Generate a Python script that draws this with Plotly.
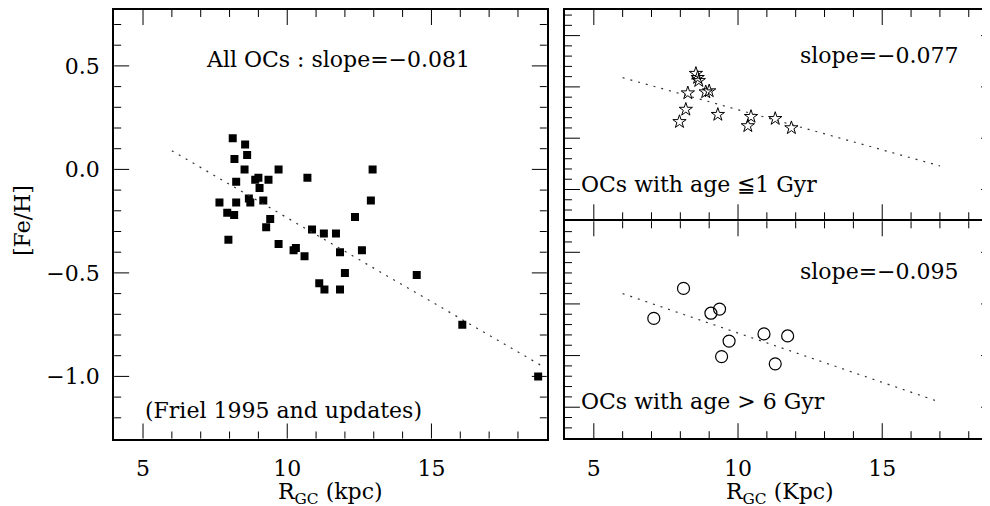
import numpy as np
import plotly.graph_objects as go

# ---------------- data ----------------
# Left panel: all open clusters (Friel 1995 and updates)
all_rgc = [8.11, 8.54, 8.61, 8.17, 8.52, 9.70, 12.96, 10.70, 8.23, 8.89, 9.00, 9.35,
           9.04, 8.67, 8.72, 9.17, 7.65, 8.23, 12.90, 7.92, 8.16, 12.35, 9.41, 9.27,
           10.86, 11.27, 11.69, 7.96, 9.70, 10.30, 10.22, 10.60, 11.83, 12.59, 12.00,
           11.11, 11.29, 11.83, 16.07, 18.70, 14.49]
all_feh = [0.15, 0.12, 0.07, 0.05, 0.00, 0.00, 0.00, -0.04, -0.06, -0.05, -0.04, -0.05,
           -0.09, -0.14, -0.16, -0.15, -0.16, -0.16, -0.15, -0.21, -0.22, -0.23, -0.24, -0.28,
           -0.29, -0.31, -0.31, -0.34, -0.36, -0.38, -0.39, -0.42, -0.40, -0.39, -0.50,
           -0.55, -0.58, -0.58, -0.75, -1.00, -0.51]
all_fit_x = [6.0, 18.9]
all_fit_y = [0.09, -0.955]

# Top right: OCs with age <= 1 Gyr
young_rgc = [8.54, 8.64, 8.60, 8.26, 8.88, 9.00, 8.19, 7.97, 9.30, 10.45, 10.34, 11.29, 11.85]
young_feh = [0.13, 0.06, 0.09, -0.06, -0.05, -0.04, -0.22, -0.34, -0.27, -0.29, -0.38, -0.31, -0.40]
young_fit_x = [6.0, 17.0]
young_fit_y = [0.09, -0.77]

# Bottom right: OCs with age > 6 Gyr
old_rgc = [7.08, 8.11, 9.06, 9.36, 9.69, 9.43, 10.90, 11.72, 11.29]
old_feh = [-0.14, 0.15, -0.09, -0.05, -0.36, -0.51, -0.29, -0.31, -0.58]
old_fit_x = [6.0, 17.0]
old_fit_y = [0.10, -0.95]

x_ticks = [5, 10, 15]
y_ticks = [0.5, 0.0, -0.5, -1.0]
x_minor_step = 1
y_minor_step = 0.1

# ---------------- figure ----------------
FONT = "DejaVu Serif"
W, H = 990, 506
OFF = 8  # page offset of the plot div (body margin)


def px_x(p):
    """page pixel x -> paper fraction"""
    return min(1.0, max(0.0, (p - OFF) / W))


def px_y(p):
    """page pixel y -> paper fraction"""
    return min(1.0, max(0.0, (H - (p - OFF)) / H))


left_dom = [px_x(114.4), px_x(547.9)]
right_dom = [px_x(566.1), 1.0]
yl_dom = [px_y(438.5), px_y(10)]
yt_dom = [px_y(219.3), px_y(10)]
yb_dom = [px_y(438.2), px_y(221.3)]

left_xrange = [4, 19]
right_xrange = [4, 4 + (W + OFF - 566.1) / 28.9]
left_yrange = [-1.3, (169.4 - 10) / 207]
top_yrange = [(86.9 - 219.3) / 102.6, (86.9 - 10) / 102.6]
bot_yrange = [-1.3, 0.8]

xd = x_ticks[1] - x_ticks[0]
yd = y_ticks[0] - y_ticks[1]

fig = go.Figure()

dot_line = dict(color="#333333", width=1.2, dash="2px,6px")

fig.add_trace(go.Scatter(x=all_rgc, y=all_feh, mode="markers",
                         marker=dict(symbol="square", size=8, color="black"),
                         xaxis="x", yaxis="y", showlegend=False))
fig.add_trace(go.Scatter(x=all_fit_x, y=all_fit_y, mode="lines", line=dot_line,
                         xaxis="x", yaxis="y", showlegend=False))

fig.add_trace(go.Scatter(x=young_rgc, y=young_feh, mode="markers",
                         marker=dict(symbol="star-open", size=10, color="black",
                                     line=dict(width=1, color="black")),
                         xaxis="x2", yaxis="y2", showlegend=False))
fig.add_trace(go.Scatter(x=young_fit_x, y=young_fit_y, mode="lines", line=dot_line,
                         xaxis="x2", yaxis="y2", showlegend=False))

fig.add_trace(go.Scatter(x=old_rgc, y=old_feh, mode="markers",
                         marker=dict(symbol="circle-open", size=12, color="black",
                                     line=dict(width=1.2, color="black")),
                         xaxis="x3", yaxis="y3", showlegend=False))
fig.add_trace(go.Scatter(x=old_fit_x, y=old_fit_y, mode="lines", line=dot_line,
                         xaxis="x3", yaxis="y3", showlegend=False))

# empty traces so that the label-only overlay axes are drawn
for xa, ya in [("x4", "y4"), ("x5", "y3")]:
    fig.add_trace(go.Scatter(x=[None], y=[None], xaxis=xa, yaxis=ya,
                             showlegend=False, hoverinfo="skip"))

tickfont = dict(family=FONT, size=22, color="black")

frame = dict(ticks="", showline=True, linecolor="black", linewidth=2, mirror=True,
             showgrid=False, zeroline=False, showticklabels=False)

label_axis = dict(tickmode="linear", tick0=0, ticks="outside", tickcolor="rgba(0,0,0,0)",
                  showline=False, showgrid=False, zeroline=False, tickfont=tickfont,
                  showticklabels=True)

fig.update_layout(
    width=W, height=H,
    margin=dict(l=0, r=0, t=0, b=0),
    paper_bgcolor="white", plot_bgcolor="white",
    font=dict(family=FONT, color="black"),
    xaxis=dict(frame, domain=left_dom, range=left_xrange, anchor="y"),
    yaxis=dict(frame, domain=yl_dom, range=left_yrange, anchor="x"),
    xaxis2=dict(frame, domain=right_dom, range=right_xrange, anchor="y2"),
    yaxis2=dict(frame, domain=yt_dom, range=top_yrange, anchor="x2"),
    xaxis3=dict(frame, domain=right_dom, range=right_xrange, anchor="y3"),
    yaxis3=dict(frame, domain=yb_dom, range=bot_yrange, anchor="x3"),
    # label-only axes
    xaxis4=dict(label_axis, overlaying="x", anchor="y4", side="bottom", range=left_xrange,
                dtick=xd, ticklen=10),
    yaxis4=dict(label_axis, overlaying="y", anchor="x4", side="left", range=left_yrange,
                dtick=yd, ticklen=9, tickformat=".1f"),
    xaxis5=dict(label_axis, overlaying="x3", anchor="y3", side="bottom",
                range=right_xrange, dtick=xd, ticklen=10),
)


# ---------------- tick marks (inside, on all four sides) ----------------
def tick_values(rng, step):
    lo, hi = min(rng), max(rng)
    vals = np.arange(np.ceil(lo / step - 1e-9) * step, hi + 1e-9, step)
    return [round(float(v), 3) for v in vals if lo + 1e-6 < v < hi - 1e-6]


def is_major(v, step):
    return abs(v / step - round(v / step)) < 1e-6


MAJ, MIN = 15, 7
shapes = []
tick_line = dict(color="black", width=1)
panels = [
    ("x", "y", left_dom, yl_dom, left_xrange, left_yrange),
    ("x2", "y2", right_dom, yt_dom, right_xrange, top_yrange),
    ("x3", "y3", right_dom, yb_dom, right_xrange, bot_yrange),
]
for xa, ya, xdom, ydom, xr, yr in panels:
    pw = (xdom[1] - xdom[0]) * W
    ph = (ydom[1] - ydom[0]) * H
    for v in tick_values(xr, x_minor_step):
        L = (MAJ if is_major(v, xd) else MIN) / ph
        for y0, y1 in [(0, L), (1 - L, 1)]:
            shapes.append(dict(type="line", xref=xa, yref=f"{ya} domain",
                               x0=v, x1=v, y0=y0, y1=y1, line=tick_line, layer="above"))
    for v in tick_values(yr, y_minor_step):
        L = (MAJ if is_major(v, yd) else MIN) / pw
        for x0, x1 in [(0, L), (1 - L, 1)]:
            shapes.append(dict(type="line", xref=f"{xa} domain", yref=ya,
                               x0=x0, x1=x1, y0=v, y1=v, line=tick_line, layer="above"))
fig.update_layout(shapes=shapes)

afont = dict(family=FONT, size=22, color="black")
common_ann = dict(xref="paper", yref="paper", showarrow=False, font=afont,
                  xanchor="center", yanchor="middle")
annotations = [
    dict(common_ann, text="All OCs : slope=−0.081", x=px_x(339), y=px_y(60)),
    dict(common_ann, text="(Friel 1995 and updates)", x=px_x(143), y=px_y(410),
         xanchor="left"),
    dict(common_ann, text="slope=−0.077", x=px_x(881), y=px_y(55)),
    dict(common_ann, text="OCs with age ≦1 Gyr", x=px_x(580), y=px_y(184), xanchor="left"),
    dict(common_ann, text="slope=−0.095", x=px_x(881), y=px_y(271)),
    dict(common_ann, text="OCs with age > 6 Gyr", x=px_x(580), y=px_y(401), xanchor="left"),
    dict(common_ann, text="R<sub>GC</sub> (kpc)", x=px_x(331), y=px_y(493)),
    dict(common_ann, text="R<sub>GC</sub> (Kpc)", x=px_x(782), y=px_y(493)),
    dict(common_ann, text="[Fe/H]", x=px_x(22), y=px_y(220), textangle=-90),
]
fig.update_layout(annotations=annotations)

fig.write_html("out.html")
